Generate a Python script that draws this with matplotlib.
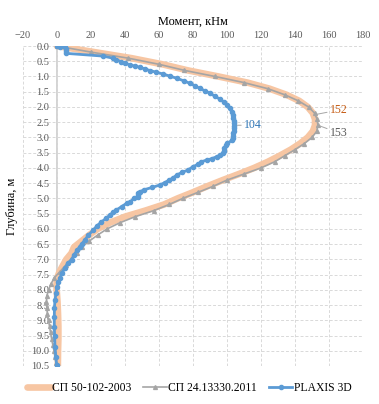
import numpy as np
import matplotlib
matplotlib.use("Agg")
import matplotlib.pyplot as plt

plt.rcParams["font.family"] = ["Liberation Serif", "DejaVu Serif"]

# ---- data: bending moment (kNm) vs depth (m) ----
depth_sp50 = [0.0, 0.2, 0.4, 0.6, 0.8, 1.0, 1.2, 1.4, 1.6, 1.8, 2.0, 2.2, 2.4,
              2.6, 2.8, 3.0, 3.2, 3.4, 3.6, 3.8, 4.0, 4.2, 4.4, 4.6, 4.8, 5.0,
              5.2, 5.4, 5.6, 5.8, 6.0, 6.2, 6.4, 6.6, 6.8, 7.0, 7.2, 7.4, 7.6,
              7.8, 8.0, 8.4, 8.8, 9.2, 9.6, 10.0, 10.5]
moment_sp50 = [0, 22, 44, 62, 77, 95, 112, 125, 135, 142.5, 147.5, 150.5, 151.8,
               151.8, 150.5, 147.5, 143, 137.5, 131, 124, 116, 107, 97.5, 88.5,
               80, 71, 63, 52, 40, 31, 24, 19, 14.5, 10, 8.5, 5.5, 3.5, 1.5, 0.2,
               -0.3, -0.2, 0.3, 0.6, 0.8, 0.8, 0.6, 0.5]

depth_sp24 = [0.0, 0.2, 0.4, 0.6, 0.8, 1.0, 1.2, 1.4, 1.6, 1.8, 2.0, 2.2, 2.4,
              2.6, 2.8, 3.0, 3.2, 3.4, 3.6, 3.8, 4.0, 4.2, 4.4, 4.6, 4.8, 5.0,
              5.2, 5.4, 5.6, 5.8, 6.0, 6.2, 6.4, 6.6, 6.8, 7.0, 7.2, 7.4, 7.6,
              7.8, 8.0, 8.2, 8.4, 8.6, 8.8, 9.0, 9.2, 9.4, 9.6, 9.8, 10.0, 10.2,
              10.4, 10.5]
moment_sp24 = [0, 20, 42, 60, 75, 93, 110, 124, 134, 142, 148, 151.5, 153,
               153.5, 152.8, 150, 145.5, 140, 134, 128, 120, 110, 100, 92, 83,
               74, 66, 57, 46, 37, 29.5, 24, 19, 14.5, 12, 8, 5, 1.8, -1.5,
               -3.5, -5, -6, -6.2, -6, -5.6, -5, -4.4, -3.8, -3.2, -2.5, -1.8,
               -1.2, -0.5, 0]

depth_plaxis = [0.00, 0.02, 0.04, 0.10, 0.17, 0.24, 0.33, 0.40, 0.45, 0.51, 0.56,
                0.62, 0.66, 0.70, 0.76, 0.81, 0.86, 0.92, 0.99, 1.06, 1.14, 1.22,
                1.30, 1.39, 1.47, 1.55, 1.65, 1.75, 1.85, 1.94, 2.05, 2.15, 2.26,
                2.37, 2.46, 2.54, 2.62, 2.70, 2.78, 2.85, 2.94, 3.03, 3.10, 3.19,
                3.25, 3.35, 3.45, 3.52, 3.58, 3.63, 3.70, 3.74, 3.80, 3.88, 3.96,
                4.07, 4.15, 4.23, 4.32, 4.40, 4.48, 4.56, 4.64, 4.72, 4.78, 4.81,
                4.89, 4.94, 5.00, 5.11, 5.16, 5.27, 5.38, 5.46, 5.54, 5.65, 5.78,
                5.90, 6.04, 6.20, 6.36, 6.50, 6.58, 6.69, 6.85, 7.02, 7.13, 7.30,
                7.46, 7.60, 7.75, 7.90, 8.10, 8.33, 8.60, 8.90, 9.21, 9.50, 9.87,
                10.20, 10.47]
moment_plaxis = [0, 1.5, 4.7, 5.0, 5.1, 5.1, 27, 33, 35, 37.5, 40, 43, 46, 49,
                 52, 55, 58.5, 62.5, 66.5, 70.5, 74.5, 78, 81, 84, 87, 90, 93,
                 96, 98.5, 100, 101.5, 102.7, 103.5, 103.8, 104, 104.2, 104.1,
                 104, 103.9, 103.8, 103.8, 103.7, 103, 100, 99.5, 98.5, 98,
                 97.8, 96, 94, 91, 88, 85, 83, 80, 77, 73.5, 70.5, 68.5, 66,
                 63.5, 60.5, 56, 51, 49, 47.8, 47.8, 47.5, 45.5, 43, 41, 38, 35,
                 33, 31.2, 29, 26, 23.5, 21.4, 18.5, 16.5, 14.5, 13.5, 12, 10,
                 8.6, 6.5, 4.5, 2.8, 1.8, 0.8, 0, -0.5, -1.2, -1.5, -1.6, -1.6,
                 -1.4, -1.2, -0.7, -0.2]

labels = ["СП 50-102-2003", "СП 24.13330.2011", "PLAXIS 3D"]
colors = ["#F7C6A3", "#A5A5A5", "#5B9BD5"]

fig = plt.figure(figsize=(3.79, 4.04), dpi=100)
ax = fig.add_axes([0.0607, 0.0941, 0.897, 0.792])

ax.plot(moment_sp50, depth_sp50, color=colors[0], lw=4.8,
        solid_capstyle="round", label=labels[0], zorder=3)
ax.plot(moment_sp24, depth_sp24, color=colors[1], lw=1.2, marker="^",
        markersize=2.8, label=labels[1], zorder=4)
ax.plot(moment_plaxis, depth_plaxis, color=colors[2], lw=2.0, marker="o",
        markersize=3.0, label=labels[2], zorder=5)

ax.set_xlim(-20, 180)
ax.set_ylim(10.5, 0)
ax.set_xticks(np.arange(-20, 181, 20))
ax.set_yticks(np.arange(0, 10.51, 0.5))
ax.set_yticklabels([f"{v:.1f}" for v in np.arange(0, 10.51, 0.5)])
ax.xaxis.tick_top()
ax.xaxis.set_label_position("top")
ax.tick_params(length=0, labelsize=7.5, colors="#595959")
ax.tick_params(axis="x", pad=4)
# y labels sit next to the vertical axis at M = 0 (inside the plot area)
ax.tick_params(axis="y", pad=-19)
for s in ax.spines.values():
    s.set_visible(False)
ax.grid(True, ls=(0, (3, 2)), color="#D9D9D9", lw=0.7)
ax.axvline(0, color="#D0D0D0", lw=1.3, zorder=1)

ax.set_xlabel("Момент, кНм", fontsize=8.8, labelpad=5)
ax.set_ylabel("Глубина, м", fontsize=8.8)
ax.yaxis.set_label_coords(-0.014, 0.5)

# data labels with leader lines
line_kw = dict(arrowstyle="-", color="#A6A6A6", lw=0.7, shrinkA=0, shrinkB=0)
ax.annotate("152", xy=(152, 2.25), xytext=(160.5, 2.1), fontsize=8.5,
            color="#C55A11", va="center", ha="left", arrowprops=line_kw)
ax.annotate("153", xy=(153.5, 2.6), xytext=(160.5, 2.85), fontsize=8.5,
            color="#595959", va="center", ha="left", arrowprops=line_kw)
ax.annotate("104", xy=(104.2, 2.6), xytext=(110, 2.6), fontsize=8.5,
            color="#2E75B6", va="center", ha="left", arrowprops=line_kw)

fig.legend(loc="center", bbox_to_anchor=(0.5, 0.04), ncol=3, frameon=False,
           fontsize=8.4, handlelength=2.0, handletextpad=0.15,
           columnspacing=1.0, borderaxespad=0)

fig.savefig("out.png", dpi=100)
